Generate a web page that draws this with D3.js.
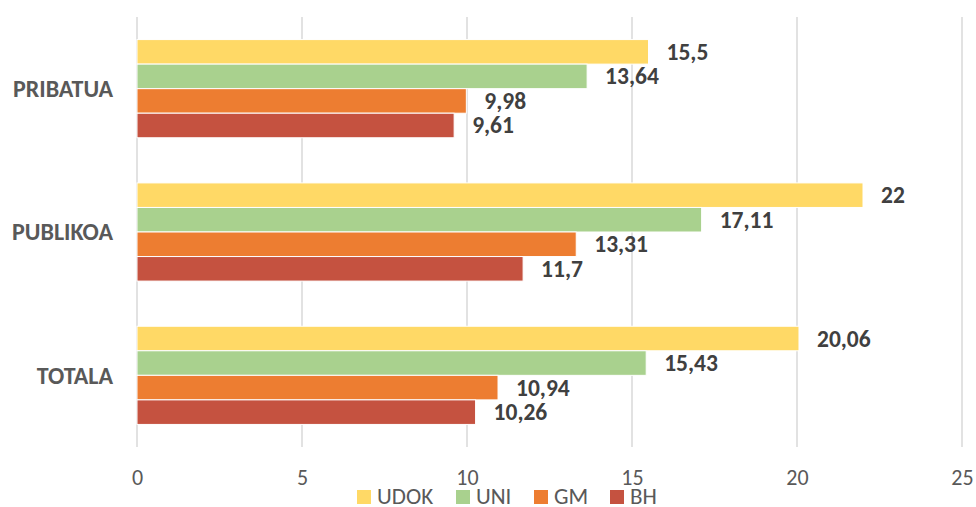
<!DOCTYPE html>
<html><head><meta charset="utf-8">
<script src="https://cdn.jsdelivr.net/npm/d3@7"></script>
<style>body{margin:0;background:#fff}svg{display:block}</style>
</head><body><svg id="c" width="976" height="507"></svg>
<script>
const categories = ["PRIBATUA","PUBLIKOA","TOTALA"];
const seriesNames = ["UDOK","UNI","GM","BH"];
const UDOK = [15.5, 22, 20.06];
const UNI = [13.64, 17.11, 15.43];
const GM = [9.98, 13.31, 10.94];
const BH = [9.61, 11.7, 10.26];
const tickValues = [0,5,10,15,20,25];
const colors = ["#FFD966","#A9D18E","#ED7D31","#C55240"];
const seriesValues = [UDOK, UNI, GM, BH];

const font = "Carlito, Calibri, 'Liberation Sans Narrow', 'Open Sans', sans-serif";
const svg = d3.select("#c");
const m = {left:137, top:17};
const x = d3.scaleLinear().domain([0,25]).range([m.left, 962]);
const y0 = d3.scaleBand().domain(categories).range([m.top, 447]).paddingInner(0.315).paddingOuter(0.1575);
const y1 = d3.scaleBand().domain(seriesNames).range([0, y0.bandwidth()]);

// grid
svg.append("g").selectAll("line").data(tickValues).join("line")
  .attr("x1", d=>x(d)).attr("x2", d=>x(d)).attr("y1", m.top).attr("y2", 447)
  .attr("stroke","#d9d9d9").attr("stroke-width",1.5);

// axis labels
const ax = d3.axisBottom(x).tickValues(tickValues).tickSize(0).tickPadding(0);
const gAx = svg.append("g").attr("transform","translate(0,485)").call(ax);
gAx.select(".domain").remove();
gAx.selectAll("text").attr("font-family",font).attr("font-size",22).attr("fill","#595959").attr("dy","0");

// bars
const groups = svg.append("g").selectAll("g").data(categories).join("g")
  .attr("transform", d=>`translate(0,${y0(d)})`);
groups.each(function(cat, ci){
  const g = d3.select(this);
  seriesNames.forEach((s, si)=>{
    const v = seriesValues[si][ci];
    g.append("rect").attr("x", x(0)).attr("y", y1(s)).attr("width", x(v)-x(0)).attr("height", y1.bandwidth())
      .attr("fill", colors[si]).attr("stroke","#fff").attr("stroke-width",1);
    g.append("text").attr("x", x(v)+18).attr("y", y1(s)+y1.bandwidth()/2).attr("dy","0.34em")
      .attr("font-family",font).attr("font-weight","bold").attr("font-size",23.5).attr("fill","#404040")
      .text(String(v).replace(".",","));
  });
});

// category labels
const ay = d3.axisLeft(y0).tickSize(0).tickPadding(24);
const gAy = svg.append("g").attr("transform",`translate(${m.left},0)`).call(ay);
gAy.select(".domain").remove();
gAy.selectAll("text").attr("font-family",font).attr("font-weight","bold").attr("font-size",24).attr("fill","#595959").attr("dy","0.34em");

// legend
const legX = [357, 456, 534, 610];
const leg = svg.append("g").selectAll("g").data(seriesNames).join("g")
  .attr("transform",(d,i)=>`translate(${legX[i]},490)`);
leg.append("rect").attr("width",14).attr("height",14).attr("fill",(d,i)=>colors[i]);
leg.append("text").attr("x",20).attr("y",14).attr("font-family",font).attr("font-size",23).attr("fill","#595959").text(d=>d);
</script></body></html>
